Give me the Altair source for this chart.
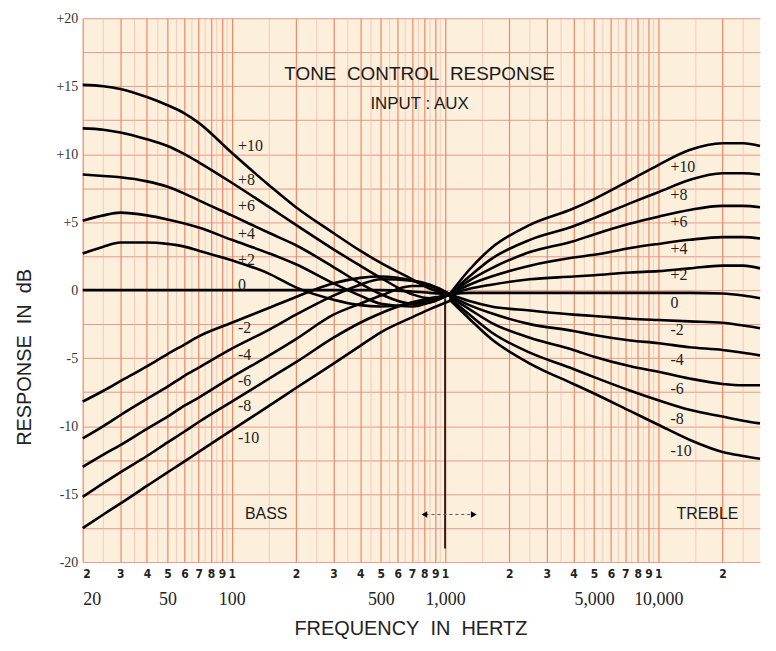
import altair as alt
import pandas as pd

# ---------------- data ----------------
SETTINGS = ["+10", "+8", "+6", "+4", "+2", "0", "-2", "-4", "-6", "-8", "-10"]

BASS_FREQ = [20, 25, 30, 40, 50, 60, 70, 100, 150, 200, 300, 400, 500, 700, 850, 1050]
BASS_P10 = [15.1, 15.0, 14.8, 14.2, 13.6, 13.0, 12.3, 10.1, 7.7, 6.1, 4.2, 2.9, 2.0, 0.8, 0.1, -0.3]
BASS_P8 = [11.9, 11.8, 11.6, 11.1, 10.6, 10.0, 9.4, 7.9, 6.1, 4.8, 3.0, 1.8, 0.9, -0.3, -0.6, -0.3]
BASS_P6 = [8.5, 8.4, 8.3, 8.0, 7.6, 7.1, 6.6, 5.5, 4.2, 3.3, 1.7, 0.5, -0.3, -1.0, -0.9, -0.3]
BASS_P4 = [5.1, 5.5, 5.7, 5.5, 5.2, 4.9, 4.6, 3.7, 2.7, 1.9, 0.5, -0.4, -1.0, -1.2, -0.9, -0.3]
BASS_P2 = [2.7, 3.2, 3.5, 3.5, 3.4, 3.2, 2.9, 2.2, 1.2, 0.2, -0.7, -1.1, -1.2, -1.0, -0.7, -0.3]
BASS_0 = [0.0, 0.0, 0.0, 0.0, 0.0, 0.0, 0.0, 0.0, 0.0, 0.0, 0.0, 0.0, 0.0, -0.1, -0.2, -0.3]
BASS_M2 = [-8.2, -7.4, -6.7, -5.6, -4.7, -4.0, -3.4, -2.4, -1.3, -0.5, 0.5, 0.9, 1.0, 0.7, 0.3, -0.3]
BASS_M4 = [-10.9, -10.0, -9.2, -8.0, -7.1, -6.3, -5.7, -4.3, -2.9, -1.8, -0.4, 0.4, 0.8, 0.7, 0.4, -0.3]
BASS_M6 = [-13.0, -12.1, -11.4, -10.2, -9.3, -8.5, -7.9, -6.4, -4.8, -3.6, -1.8, -1.0, -0.4, 0.3, 0.3, -0.3]
BASS_M8 = [-15.2, -14.2, -13.4, -12.2, -11.2, -10.4, -9.7, -8.2, -6.5, -5.3, -3.5, -2.4, -1.7, -0.9, -0.6, -0.4]
BASS_M10 = [-17.5, -16.5, -15.7, -14.4, -13.4, -12.6, -11.9, -10.3, -8.5, -7.2, -5.4, -4.1, -3.1, -2.0, -1.4, -0.8]

TREBLE_FREQ = [1050, 1300, 1650, 2500, 4000, 5000, 7400, 10000, 14000, 20000, 25000, 30000]
TREBLE_P10 = [-0.3, 1.5, 3.1, 4.8, 6.0, 6.7, 8.1, 9.2, 10.3, 10.8, 10.8, 10.6]
TREBLE_P8 = [-0.3, 1.0, 2.3, 3.7, 4.7, 5.3, 6.4, 7.2, 8.1, 8.6, 8.6, 8.5]
TREBLE_P6 = [-0.3, 0.7, 1.6, 2.8, 3.6, 4.1, 4.9, 5.4, 5.9, 6.2, 6.2, 6.1]
TREBLE_P4 = [-0.3, 0.4, 1.0, 1.8, 2.4, 2.6, 3.1, 3.4, 3.7, 3.9, 3.9, 3.8]
TREBLE_P2 = [-0.3, 0.1, 0.4, 0.8, 1.0, 1.1, 1.3, 1.4, 1.6, 1.8, 1.8, 1.6]
TREBLE_0 = [-0.3, -0.2, -0.2, -0.2, -0.2, -0.2, -0.2, -0.2, -0.2, -0.25, -0.4, -0.6]
TREBLE_M2 = [-0.3, -0.8, -1.2, -1.5, -1.8, -1.9, -2.1, -2.2, -2.3, -2.4, -2.6, -2.8]
TREBLE_M4 = [-0.4, -1.1, -1.7, -2.5, -3.0, -3.3, -3.7, -3.9, -4.2, -4.4, -4.6, -4.8]
TREBLE_M6 = [-0.5, -1.4, -2.4, -3.5, -4.4, -4.9, -5.6, -6.0, -6.5, -6.9, -7.0, -7.0]
TREBLE_M8 = [-0.6, -1.8, -3.1, -4.6, -5.8, -6.4, -7.4, -8.1, -8.8, -9.3, -9.6, -9.8]
TREBLE_M10 = [-0.7, -2.1, -3.6, -5.4, -6.9, -7.6, -8.9, -9.9, -11.0, -11.9, -12.2, -12.4]

BASS_SERIES = [BASS_P10, BASS_P8, BASS_P6, BASS_P4, BASS_P2, BASS_0,
               BASS_M2, BASS_M4, BASS_M6, BASS_M8, BASS_M10]
TREBLE_SERIES = [TREBLE_P10, TREBLE_P8, TREBLE_P6, TREBLE_P4, TREBLE_P2, TREBLE_0,
                 TREBLE_M2, TREBLE_M4, TREBLE_M6, TREBLE_M8, TREBLE_M10]

# curve labels (data units)
BASS_LABEL_FREQ = 107
BASS_LABEL_DB = [10.6, 8.1, 6.2, 4.1, 2.2, 0.4, -2.75, -4.8, -6.7, -8.55, -10.9]
TREBLE_LABEL_FREQ = 11400
TREBLE_LABEL_DB = [9.06, 7.03, 5.0, 3.04, 1.09, -0.94, -2.97, -5.14, -7.25, -9.5, -11.8]

# axis ticks
DIGIT_TICKS = [20, 30, 40, 50, 60, 70, 80, 90,
               100, 200, 300, 400, 500, 600, 700, 800, 900,
               1000, 2000, 3000, 4000, 5000, 6000, 7000, 8000, 9000,
               10000, 20000]
MAJOR_TICKS = [20, 50, 100, 500, 1000, 5000, 10000]
MINOR_GRID = [25, 35, 45, 55, 65, 75, 85, 95,
              150, 250, 350, 450, 550, 650, 750, 850, 950,
              1500, 2500, 3500, 4500, 5500, 6500, 7500, 8500, 9500,
              15000, 25000]
DB_TICKS = [-20, -17.5, -15, -12.5, -10, -7.5, -5, -2.5, 0, 2.5, 5, 7.5, 10,
            12.5, 15, 17.5, 20]

SP = "\u00a0\u00a0"  # the wide word spacing of the original lettering

# ---------------- tables ----------------
rows = []
for name, vals in zip(SETTINGS, BASS_SERIES):
    for f, v in zip(BASS_FREQ, vals):
        rows.append({"freq": f, "db": v, "series": "bass " + name})
for name, vals in zip(SETTINGS, TREBLE_SERIES):
    for f, v in zip(TREBLE_FREQ, vals):
        rows.append({"freq": f, "db": v, "series": "treble " + name})
curves = pd.DataFrame(rows)

labels = pd.DataFrame(
    [{"freq": BASS_LABEL_FREQ, "db": d, "text": t} for t, d in zip(SETTINGS, BASS_LABEL_DB)]
    + [{"freq": TREBLE_LABEL_FREQ, "db": d, "text": t} for t, d in zip(SETTINGS, TREBLE_LABEL_DB)]
)

annotations = pd.DataFrame([
    {"freq": 760, "db": 15.9, "text": "TONE" + SP + "CONTROL" + SP + "RESPONSE", "size": 19},
    {"freq": 760, "db": 13.7, "text": "INPUT : AUX", "size": 17},
    {"freq": 145, "db": -16.5, "text": "BASS", "size": 16},
    {"freq": 17000, "db": -16.5, "text": "TREBLE", "size": 16},
])

minor = pd.DataFrame({"freq": MINOR_GRID})
marker = pd.DataFrame({"freq": [1000], "db": [-0.6], "db2": [-19.0]})
arrow = pd.DataFrame({"freq": [810], "freq2": [1350], "db": [-16.5]})
heads = pd.DataFrame({"freq": [800, 1365], "db": [-16.5, -16.5],
                      "shape": ["triangle-left", "triangle-right"]})

# ---------------- scales / axes ----------------
xscale = alt.Scale(type="log", domain=[20, 30000], nice=False)
yscale = alt.Scale(domain=[-20, 20], nice=False, zero=False)

yaxis = alt.Axis(
    values=DB_TICKS,
    labelExpr="datum.value % 5 == 0 ? (datum.value > 0 ? '+' + datum.value : '' + datum.value) : ''",
    grid=True, gridColor="#e58e80", gridWidth=1, gridOpacity=0.9,
    ticks=False, domain=False,
    labelFont="Liberation Serif", labelFontSize=14, labelColor="#333", labelPadding=5,
    title="RESPONSE" + SP + "IN" + SP + "dB", titleFont="Liberation Sans", titleFontSize=20,
    titleFontWeight="normal", titleColor="#222", titleX=-48, titleY=340,
)
Y = alt.Y("db:Q", scale=yscale, axis=yaxis)

xaxis_digits = alt.Axis(
    orient="bottom", values=DIGIT_TICKS,
    labelExpr="substring(toString(datum.value), 0, 1)",
    grid=True, gridColor="#ea7550", gridWidth=1.2, gridOpacity=0.85,
    ticks=False, domain=False,
    labelFont="DejaVu Sans Condensed", labelFontWeight="bold", labelFontSize=12,
    labelColor="#222", labelPadding=7, labelOverlap=False,
    title="FREQUENCY" + SP + "IN" + SP + "HERTZ", titleFont="Liberation Sans", titleFontSize=20,
    titleFontWeight="normal", titleColor="#222", titleX=329, titleY=57,
    titleBaseline="top",
)
xaxis_major = alt.Axis(
    orient="bottom", values=MAJOR_TICKS, labelExpr="format(datum.value, ',')",
    grid=False, ticks=False, domain=False,
    labelFont="Liberation Serif", labelFontSize=18, labelColor="#222",
    labelPadding=29, labelOverlap=False, title=None,
)

# ---------------- layers ----------------
minor_layer = alt.Chart(minor).mark_rule(color="#f2b5a5", strokeWidth=0.8, opacity=0.8).encode(
    x=alt.X("freq:Q", scale=xscale, axis=None)
)

curve_layer = alt.Chart(curves).mark_line(
    color="black", strokeWidth=2.6, interpolate="monotone"
).encode(
    x=alt.X("freq:Q", scale=xscale, axis=xaxis_digits),
    y=Y,
    detail="series:N",
)

marker_layer = alt.Chart(marker).mark_rule(color="black", strokeWidth=1.6).encode(
    x=alt.X("freq:Q", scale=xscale, axis=None), y=Y, y2="db2:Q"
)

arrow_layer = alt.Chart(arrow).mark_rule(color="#555", strokeWidth=1, strokeDash=[3, 3]).encode(
    x=alt.X("freq:Q", scale=xscale, axis=None), x2="freq2:Q", y=Y
)

heads_layer = alt.Chart(heads).mark_point(filled=True, color="black", size=45, opacity=1).encode(
    x=alt.X("freq:Q", scale=xscale, axis=None), y=Y,
    shape=alt.Shape("shape:N", scale=None),
)

label_layer = alt.Chart(labels).mark_text(
    align="left", baseline="middle", font="Liberation Serif", fontSize=16, color="#222"
).encode(
    x=alt.X("freq:Q", scale=xscale, axis=xaxis_major), y=Y, text="text:N"
)

annot_layer = alt.Chart(annotations).mark_text(
    align="center", baseline="middle", font="Liberation Sans", color="#1a1a1a"
).encode(
    x=alt.X("freq:Q", scale=xscale, axis=None), y=Y, text="text:N",
    size=alt.Size("size:Q", scale=None, legend=None),
)

chart = alt.layer(
    minor_layer, curve_layer, marker_layer, arrow_layer, heads_layer, label_layer, annot_layer
).resolve_axis(x="independent").properties(
    width=680, height=546,
    padding={"left": 7, "top": 2, "right": 2, "bottom": 2},
    background="white",
).configure_view(fill="#fcefdc", stroke=None)

chart.save("out.html", embed_options={"renderer": "svg", "actions": False})
